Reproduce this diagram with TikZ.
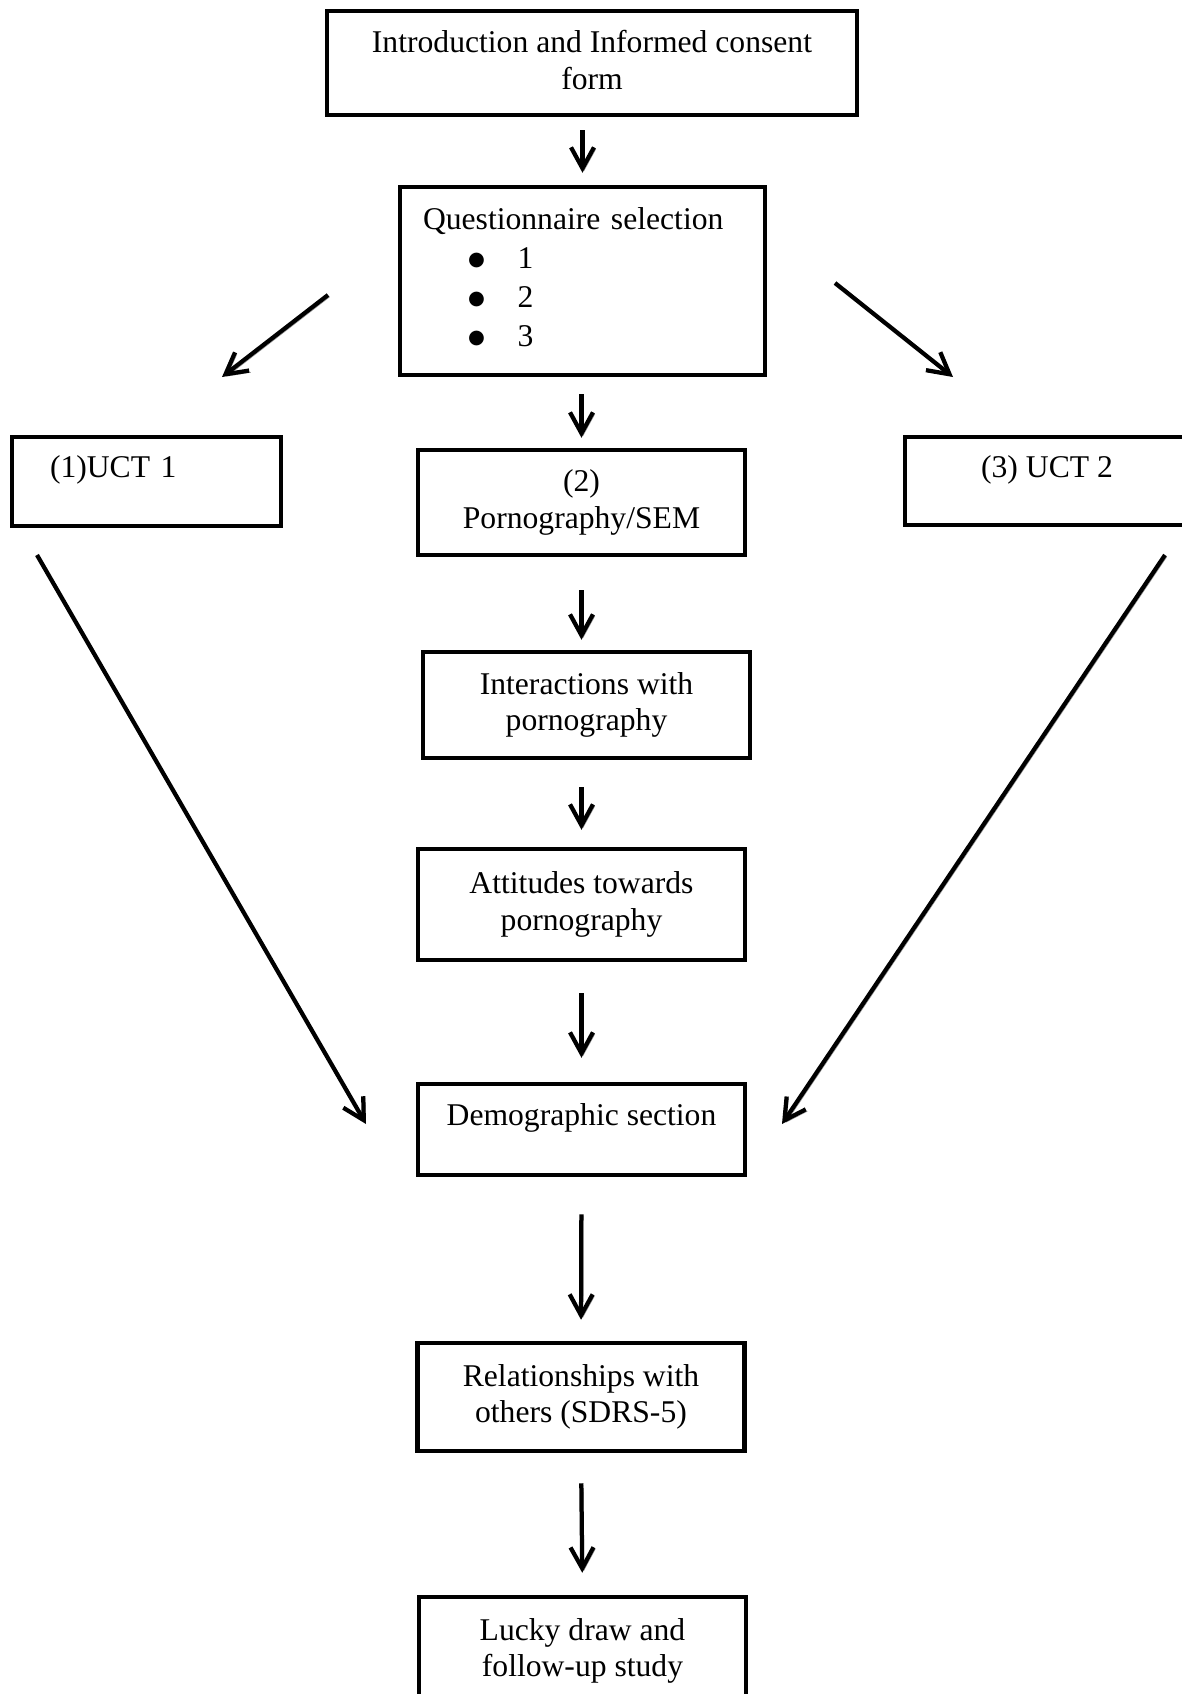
\documentclass[tikz,border=0pt]{standalone}
\usepackage{fontspec}
\setmainfont{Liberation Serif}
\newfontfamily\symfont{DejaVu Sans}
\usetikzlibrary{arrows.meta}

\newcommand{\qbullet}{\hspace*{0.9cm}\makebox[0.99cm][l]{\raisebox{0.05cm}{\symfont\fontsize{11}{11}\selectfont ●}}}

\begin{document}
\begin{tikzpicture}[
    font=\fontsize{18}{20.7}\selectfont,
    box/.style={draw, line width=0.09cm, align=center, inner sep=0pt, minimum width=6.54cm},
    topline/.style={text height=0.5cm, text depth=0.66cm},
    arr/.style={line width=0.085cm, -{Straight Barb[length=0.42cm,width=0.46cm]},
      preaction={draw=black!40, transform canvas={shift={(0.035,-0.035)}}}}
  ]
  \useasboundingbox (0,0) rectangle (23.64,-33.88);
  % caja de inicio
  \node[box, minimum width=10.6cm, minimum height=2.08cm] (intro) at (11.84,-1.26)
    {Introduction and Informed consent\\form\rule[-0.12cm]{0pt}{0pt}};
  % seleccion de cuestionario
  \node[box, minimum height=3.76cm, text width=6.38cm, inner xsep=0.46cm, align=left,
    font=\fontsize{18}{22.2}\selectfont] (quest) at (11.65,-5.62)
    {Questionnaire selection\\
     \qbullet 1\\
     \qbullet 2\\
     \qbullet 3\rule[-0.17cm]{0pt}{0pt}};
  % las tres ramas
  \node[box, topline, minimum width=5.38cm, minimum height=1.78cm, inner xsep=0.76cm,
    text width=3.86cm, align=left] (uct1) at (2.93,-9.63) {(1)UCT 1};
  \node[box, minimum height=2.1cm] (porn) at (11.63,-10.05) {(2)\\Pornography/SEM};
  \node[box, topline, minimum width=5.68cm, minimum height=1.76cm] (uct2) at (20.94,-9.62) {(3) UCT 2};
  % rama central
  \node[box, minimum height=2.12cm] (inter) at (11.73,-14.1) {Interactions with\\pornography};
  \node[box, minimum height=2.22cm] (att) at (11.63,-18.09) {Attitudes towards\\pornography};
  \node[box, topline, minimum height=1.82cm] (demo) at (11.63,-22.59) {Demographic section};
  \node[box, minimum height=2.16cm] (rel) at (11.62,-27.94) {Relationships with\\others (SDRS-5)};
  \node[box, minimum height=2.16cm] (lucky) at (11.65,-33.02) {Lucky draw and\\follow-up study};
  % extremos de las flechas diagonales
  \coordinate (qleft) at (6.56,-5.9);
  \coordinate (uleft) at (4.44,-7.54);
  \coordinate (qright) at (16.7,-5.66);
  \coordinate (uright) at (19.06,-7.54);
  \coordinate (dleft) at (0.74,-11.1);
  \coordinate (demoleft) at (7.32,-22.48);
  \coordinate (dright) at (23.3,-11.1);
  \coordinate (demoright) at (15.64,-22.48);
  % flechas verticales
  \draw[arr, shorten <=0.26cm, shorten >=0.24cm] (quest.north |- intro.south) -- (quest.north);
  \draw[arr, shorten <=0.34cm, shorten >=0.2cm] (porn.north |- quest.south) -- (porn.north);
  \draw[arr, shorten <=0.66cm, shorten >=0.2cm] (porn.south) -- (porn.south |- inter.north);
  \draw[arr, shorten <=0.54cm, shorten >=0.34cm] (att.north |- inter.south) -- (att.north);
  \draw[arr, shorten <=0.62cm, shorten >=0.48cm] (att.south) -- (demo.north);
  \draw[arr, shorten <=0.74cm, shorten >=0.42cm] (demo.south) -- (rel.north);
  \draw[arr, shorten <=0.6cm, shorten >=0.44cm] (rel.south) -- (lucky.north);
  % flechas diagonales
  \draw[arr] (qleft) -- (uleft);
  \draw[arr] (qright) -- (uright);
  \draw[arr] (dleft) -- (demoleft);
  \draw[arr] (dright) -- (demoright);
\end{tikzpicture}
\end{document}
